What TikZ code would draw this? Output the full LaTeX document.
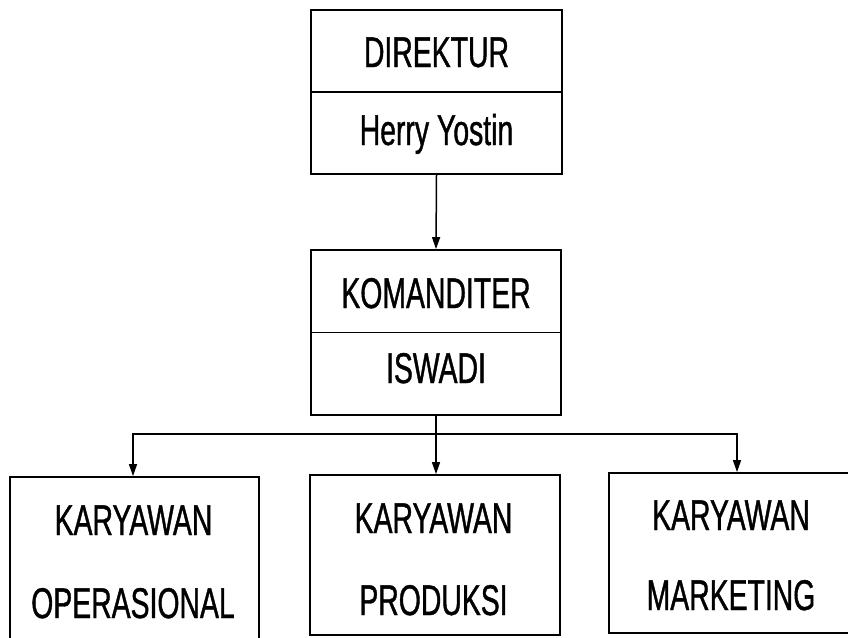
\documentclass[tikz,border=0pt]{standalone}
\usepackage{fontspec}
\setmainfont[FakeStretch=0.66,FakeBold=0.9]{Liberation Sans}
\usetikzlibrary{arrows.meta}
\begin{document}
\begin{tikzpicture}[x=1pt,y=-1pt,
  box/.style={draw, line width=1.8pt, rectangle, inner sep=0pt},
  lbl/.style={anchor=base, inner sep=0pt, font=\fontsize{43}{50}\selectfont},
  conn/.style={line width=1.5pt},
  arr/.style={conn, -{Triangle[length=12pt,width=8pt]}}]
\useasboundingbox (0,0) rectangle (848,637);
% boxes
\node[box, minimum width=251pt, minimum height=164pt] (dir) at (436.5,92) {};
\node[box, minimum width=250pt, minimum height=165pt] (kom) at (436,332.5) {};
\node[box, minimum width=249pt, minimum height=168pt] (ops) at (134.5,561) {};
\node[box, minimum width=250pt, minimum height=160pt] (prod) at (435,555) {};
\node[box, minimum width=243pt, minimum height=160pt] (mark) at (730.5,553) {};
% dividers
\draw[line width=1.8pt] (dir.west) -- (dir.east);
\draw[line width=1.8pt] (kom.west) -- (kom.east);
% texts
\node[lbl] (t1) at (436.5,67) {DIREKTUR};
\node[lbl] (t2) at (436.5,145) {Herry Yostin};
\node[lbl] (t3) at (436,308) {KOMANDITER};
\node[lbl] (t4) at (436,383) {ISWADI};
\node[lbl] (t5) at (133.5,535) {KARYAWAN};
\node[lbl] (t6) at (133,618) {OPERASIONAL};
\node[lbl] (t7) at (433.5,533) {KARYAWAN};
\node[lbl] (t8) at (433.5,615) {PRODUKSI};
\node[lbl] (t9) at (731,530) {KARYAWAN};
\node[lbl] (t10) at (731,610) {MARKETING};
% connectors
\draw[arr] (dir.south) -- (kom.north);
\coordinate (j) at (436,434);
\draw[conn] (kom.south) -- (j);
\draw[arr] (j) -| ([xshift=-1.5pt]ops.north);
\draw[arr] (j) -- (j |- prod.north);
\draw[arr] (j) -| ([xshift=6.5pt]mark.north);
\end{tikzpicture}
\end{document}
